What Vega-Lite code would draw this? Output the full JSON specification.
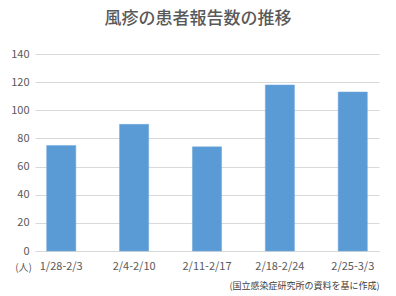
{
  "$schema": "https://vega.github.io/schema/vega-lite/v6.json",
  "autosize": "none",
  "width": 344,
  "height": 197,
  "padding": {"left": 35, "top": 54, "right": 17, "bottom": 45},
  "background": "white",
  "title": {
    "text": "風疹の患者報告数の推移",
    "font": "Noto Sans CJK JP",
    "fontSize": 17,
    "fontWeight": 500,
    "color": "#595959",
    "anchor": "middle",
    "dx": -9,
    "offset": 20
  },
  "data": {
    "values": [
      {"week": "1/28-2/3", "count": 75},
      {"week": "2/4-2/10", "count": 90},
      {"week": "2/11-2/17", "count": 74},
      {"week": "2/18-2/24", "count": 118},
      {"week": "2/25-3/3", "count": 113}
    ]
  },
  "mark": {"type": "bar", "color": "#5b9bd5", "stroke": "#6fa8dc", "strokeWidth": 0.5},
  "encoding": {
    "x": {
      "field": "week",
      "type": "ordinal",
      "sort": null,
      "scale": {"paddingInner": 0.6, "paddingOuter": 0.16},
      "axis": {
        "title": "(国立感染症研究所の資料を基に作成)",
        "titleFont": "Noto Sans CJK JP",
        "titleFontSize": 9,
        "titleFontWeight": "normal",
        "titleColor": "#404040",
        "titleAnchor": "end",
        "titleAlign": "right",
        "titleX": 344,
        "titleY": 34,
        "titleBaseline": "middle",
        "labelAngle": 0,
        "labelFont": "Noto Sans CJK JP",
        "labelFontSize": 11,
        "labelColor": "#595959",
        "labelPadding": 9,
        "domain": true,
        "domainColor": "#d9d9d9",
        "ticks": false
      }
    },
    "y": {
      "field": "count",
      "type": "quantitative",
      "scale": {"domain": [0, 140]},
      "axis": {
        "values": [0, 20, 40, 60, 80, 100, 120, 140],
        "title": "(人)",
        "titleAngle": 0,
        "titleFont": "Noto Sans CJK JP",
        "titleFontSize": 10,
        "titleFontWeight": "normal",
        "titleColor": "#595959",
        "titleAlign": "center",
        "titleBaseline": "middle",
        "titleX": -12,
        "titleY": 213,
        "labelFont": "Noto Sans CJK JP",
        "labelFontSize": 11,
        "labelColor": "#595959",
        "labelPadding": 6,
        "domain": false,
        "ticks": false,
        "grid": true,
        "gridColor": "#d9d9d9"
      }
    }
  },
  "config": {"view": {"stroke": null}}
}
